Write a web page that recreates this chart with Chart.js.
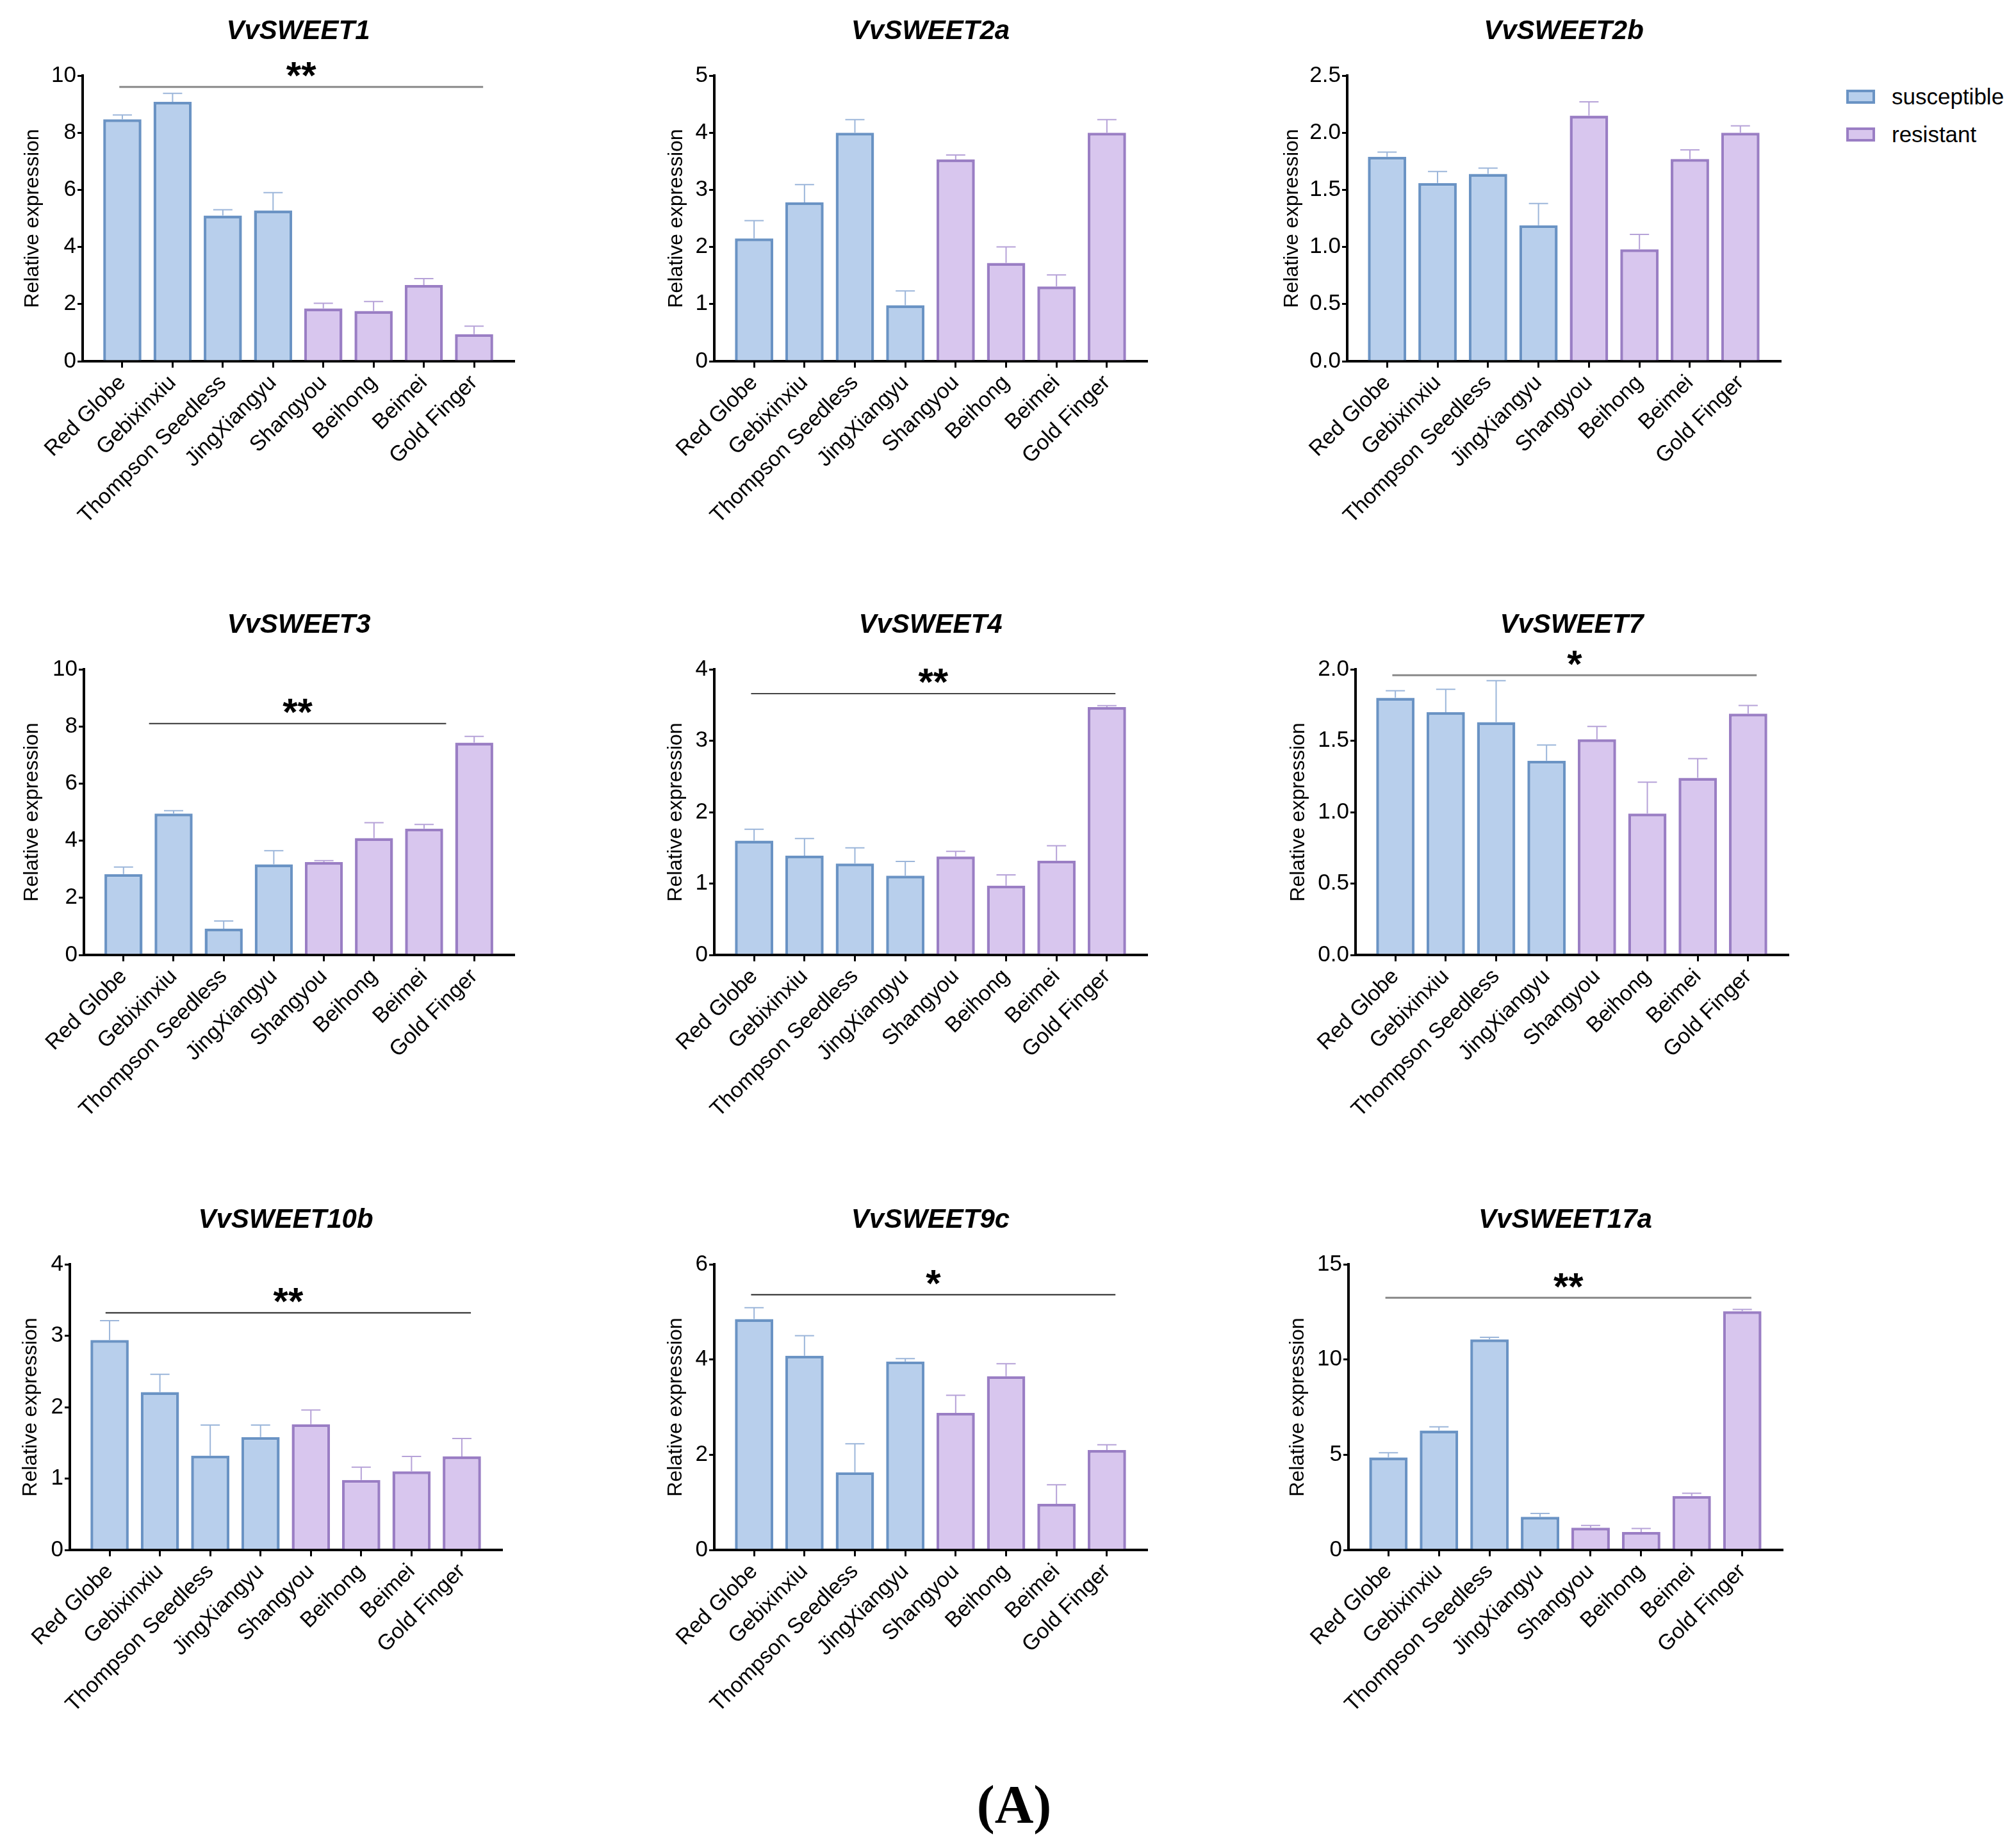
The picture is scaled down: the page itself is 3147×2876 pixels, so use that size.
<!DOCTYPE html>
<html>
<head>
<meta charset="utf-8">
<title>VvSWEET relative expression</title>
<script src="https://cdn.jsdelivr.net/npm/chart.js@4.4.1/dist/chart.umd.min.js"></script>
<style>
  html, body { margin: 0; padding: 0; background: #fff; }
  body { width: 3147px; height: 2876px; position: relative; overflow: hidden;
         font-family: "Liberation Sans", Arial, sans-serif; }
  .panel { position: absolute; }
  .legend-row { position: absolute; display: flex; align-items: center; font-size: 35px; color: #000; }
  .legend-box { width: 45px; height: 22px; box-sizing: border-box; border: 4px solid; margin-right: 26px; }
  #figLabel { position: absolute; left: 1383px; width: 400px; top: 2776px; text-align: center;
              font: bold 84px/84px "Liberation Serif", "Times New Roman", serif; color: #000; }
</style>
</head>
<body>
<div id="figLabel">(A)</div>
<script>
"use strict";

/* ---- data ---- */
const CATEGORIES = ["Red Globe", "Gebixinxiu", "Thompson Seedless", "JingXiangyu",
                    "Shangyou", "Beihong", "Beimei", "Gold Finger"];
const GROUPS = ["susceptible", "susceptible", "susceptible", "susceptible",
                "resistant", "resistant", "resistant", "resistant"];
const SERIES = ["susceptible", "resistant"];

const GENES = ["VvSWEET1", "VvSWEET2a", "VvSWEET2b", "VvSWEET3", "VvSWEET4",
               "VvSWEET7", "VvSWEET10b", "VvSWEET9c", "VvSWEET17a"];

const VvSWEET1      = [8.47, 9.08, 5.10, 5.28, 1.85, 1.76, 2.67, 0.95];
const VvSWEET1_SD   = [0.15, 0.30, 0.20, 0.62, 0.18, 0.33, 0.22, 0.28];
const VvSWEET2a     = [2.15, 2.78, 4.00, 0.98, 3.53, 1.72, 1.31, 4.00];
const VvSWEET2a_SD  = [0.31, 0.31, 0.23, 0.25, 0.08, 0.28, 0.20, 0.23];
const VvSWEET2b     = [1.79, 1.56, 1.64, 1.19, 2.15, 0.98, 1.77, 2.00];
const VvSWEET2b_SD  = [0.04, 0.10, 0.05, 0.19, 0.12, 0.13, 0.08, 0.06];
const VvSWEET3      = [2.83, 4.95, 0.92, 3.17, 3.25, 4.09, 4.42, 7.43];
const VvSWEET3_SD   = [0.25, 0.10, 0.27, 0.48, 0.05, 0.54, 0.15, 0.22];
const VvSWEET4      = [1.60, 1.39, 1.28, 1.11, 1.38, 0.97, 1.32, 3.47];
const VvSWEET4_SD   = [0.16, 0.24, 0.22, 0.20, 0.07, 0.15, 0.21, 0.02];
const VvSWEET7      = [1.80, 1.70, 1.63, 1.36, 1.51, 0.99, 1.24, 1.69];
const VvSWEET7_SD   = [0.05, 0.16, 0.29, 0.11, 0.09, 0.22, 0.135, 0.057];
const VvSWEET10b    = [2.94, 2.21, 1.32, 1.58, 1.76, 0.98, 1.10, 1.31];
const VvSWEET10b_SD = [0.27, 0.25, 0.43, 0.17, 0.20, 0.18, 0.21, 0.25];
const VvSWEET9c     = [4.85, 4.08, 1.63, 3.96, 2.88, 3.65, 0.97, 2.10];
const VvSWEET9c_SD  = [0.24, 0.42, 0.60, 0.06, 0.37, 0.26, 0.40, 0.11];
const VvSWEET17a    = [4.86, 6.27, 11.06, 1.74, 1.17, 0.94, 2.83, 12.54];
const VvSWEET17a_SD = [0.24, 0.20, 0.11, 0.18, 0.12, 0.19, 0.15, 0.09];

const MEANS = [VvSWEET1, VvSWEET2a, VvSWEET2b, VvSWEET3, VvSWEET4, VvSWEET7, VvSWEET10b, VvSWEET9c, VvSWEET17a];
const ERRORS = [VvSWEET1_SD, VvSWEET2a_SD, VvSWEET2b_SD, VvSWEET3_SD, VvSWEET4_SD, VvSWEET7_SD, VvSWEET10b_SD, VvSWEET9c_SD, VvSWEET17a_SD];

// y axes
const Y_MAX      = [10, 5, 2.5, 10, 4, 2, 4, 6, 15];
const Y_STEP     = [2, 1, 0.5, 2, 1, 0.5, 1, 2, 5];
const Y_DECIMALS = [0, 0, 1, 0, 0, 1, 0, 0, 0];

// significance bars (span in category index, level in y units)
const SIG_TEXT  = ["**", null, null, "**", "**", "*", "**", "*", "**"];
const SIG_LEVEL = [9.6, null, null, 8.1, 3.66, 1.958, 3.32, 5.36, 13.24];
const SIG_FROM  = [-0.06, null, null, 0.51, -0.06, -0.06, -0.08, -0.06, -0.06];
const SIG_TO    = [7.18, null, null, 6.44, 7.17, 7.17, 7.18, 7.17, 7.18];

/* ---- layout & style ---- */
const PANEL_BOX = [
  { left: 129,  right: 802,  top: 118 },
  { left: 1115, right: 1790, top: 118 },
  { left: 2103, right: 2779, top: 118 },
  { left: 131,  right: 802,  top: 1045 },
  { left: 1115, right: 1790, top: 1045 },
  { left: 2116, right: 2791, top: 1045 },
  { left: 109,  right: 783,  top: 1974 },
  { left: 1115, right: 1790, top: 1974 },
  { left: 2105, right: 2782, top: 1974 },
];
const YTITLE_OFFSET = [78, 59, 86, 81, 60, 89, 61, 60, 79];   // title centre left of axis
const SIG_STYLE = [
  { color: "#8a8a8a", width: 3 }, null, null,
  { color: "#333", width: 2 }, { color: "#444", width: 2 }, { color: "#888", width: 3 },
  { color: "#222", width: 2 }, { color: "#222", width: 2 }, { color: "#888", width: 3 },
];

const AXIS_W = 110, PAD_R = 20, TOP_H = 118, PLOT_H = 446, BOTTOM_H = 260;
const FILL = { susceptible: "#B8CFEC", resistant: "#D8C6EE" };
const EDGE = { susceptible: "#6A93C4", resistant: "#9A7EC4" };
const ERRC = { susceptible: "#9CB6DA", resistant: "#B6A2D8" };
const FONT = "'Liberation Sans', Arial, sans-serif";

Chart.defaults.font.family = FONT;
Chart.defaults.color = "#000";

const errorBars = {
  id: "errorBars",
  afterDatasetsDraw(chart) {
    const { ctx } = chart;
    const ys = chart.scales.y;
    chart.data.datasets.forEach((ds, di) => {
      const meta = chart.getDatasetMeta(di);
      ctx.save();
      ctx.strokeStyle = ERRC[ds.label];
      ctx.lineWidth = 2;
      meta.data.forEach((bar, j) => {
        const pt = ds.data[j];
        const top = ys.getPixelForValue(pt.y + pt.err);
        ctx.beginPath();
        ctx.moveTo(bar.x, bar.y);
        ctx.lineTo(bar.x, top);
        ctx.moveTo(bar.x - 15, top);
        ctx.lineTo(bar.x + 15, top);
        ctx.stroke();
      });
      ctx.restore();
    });
  },
};

const sigBar = {
  id: "sigBar",
  afterDraw(chart, args, opts) {
    if (!opts.text) return;
    const { ctx } = chart;
    const { x, y } = chart.scales;
    const x0 = x.getPixelForValue(opts.from), x1 = x.getPixelForValue(opts.to);
    const yl = y.getPixelForValue(opts.level);
    ctx.save();
    ctx.strokeStyle = opts.color;
    ctx.lineWidth = opts.width;
    ctx.beginPath();
    ctx.moveTo(x0, yl);
    ctx.lineTo(x1, yl);
    ctx.stroke();
    const size = 60;
    ctx.font = `bold ${size}px ${FONT}`;
    ctx.fillStyle = "#000";
    ctx.textAlign = "center";
    ctx.textBaseline = "alphabetic";
    ctx.fillText(opts.text, (x0 + x1) / 2, yl - 31 + 0.555 * size);
    ctx.restore();
  },
};

function makePanel(p) {
  const box = PANEL_BOX[p];
  const w = box.right - box.left + AXIS_W + PAD_R;
  const hgt = TOP_H + PLOT_H + BOTTOM_H;

  const wrap = document.createElement("div");
  wrap.className = "panel";
  Object.assign(wrap.style, { left: (box.left - AXIS_W) + "px", top: (box.top - TOP_H) + "px", width: w + "px", height: hgt + "px" });
  const canvas = document.createElement("canvas");
  canvas.width = w; canvas.height = hgt;
  canvas.style.width = w + "px"; canvas.style.height = hgt + "px";
  wrap.appendChild(canvas);
  document.body.appendChild(wrap);

  const datasets = SERIES.map(g => ({
    label: g,
    data: CATEGORIES.map((c, i) => ({ x: i, y: MEANS[p][i], err: ERRORS[p][i] }))
                    .filter((d, i) => GROUPS[i] === g),
    backgroundColor: FILL[g],
    borderColor: EDGE[g],
    borderWidth: 4.5,
    borderSkipped: "start",
    barPercentage: 0.76,
    categoryPercentage: 1,
    grouped: false,
  }));

  const sig = SIG_TEXT[p]
    ? { text: SIG_TEXT[p], from: SIG_FROM[p], to: SIG_TO[p], level: SIG_LEVEL[p], ...SIG_STYLE[p] }
    : { text: null };

  new Chart(canvas, {
    type: "bar",
    data: { datasets },
    plugins: [errorBars, sigBar],
    options: {
      responsive: false,
      animation: false,
      layout: { padding: { right: PAD_R } },
      plugins: {
        legend: { display: false },
        tooltip: { enabled: false },
        title: {
          display: true, text: GENES[p], fullSize: false, color: "#000",
          font: { size: 42, weight: "bold", style: "italic", lineHeight: 1.2 },
          padding: { top: 24, bottom: 43.6 },
        },
        sigBar: sig,
      },
      scales: {
        x: {
          type: "linear", min: -0.79, max: 7.79, offset: false,
          afterBuildTicks: ax => { ax.ticks = CATEGORIES.map((c, i) => ({ value: i })); },
          afterFit: ax => { ax.height = BOTTOM_H; },
          ticks: {
            callback: (v, i) => CATEGORIES[i],
            autoSkip: false, minRotation: 45, maxRotation: 45,
            color: "#000", font: { size: 34 }, padding: 4,
          },
          grid: { offset: false, drawOnChartArea: false, drawTicks: true, tickLength: 10, color: "#000", lineWidth: 3 },
          border: { color: "#000", width: 4 },
        },
        y: {
          min: 0, max: Y_MAX[p],
          afterFit: ax => { ax.width = AXIS_W; },
          ticks: {
            stepSize: Y_STEP[p],
            callback: v => v.toFixed(Y_DECIMALS[p]),
            color: "#000", font: { size: 35 }, padding: 2,
          },
          grid: { drawOnChartArea: false, drawTicks: true, tickLength: 8, color: "#000", lineWidth: 3 },
          border: { color: "#000", width: 4 },
          title: {
            display: true, text: "Relative expression", color: "#000",
            font: { size: 32, lineHeight: 1.2 },
            padding: { top: AXIS_W - YTITLE_OFFSET[p] - 19.2, bottom: 0 },
          },
        },
      },
    },
  });
}

GENES.forEach((g, p) => makePanel(p));

// legend
SERIES.forEach((g, k) => {
  const row = document.createElement("div");
  row.className = "legend-row";
  Object.assign(row.style, { left: "2882px", top: (130 + k * 59) + "px", height: "42px" });
  const sw = document.createElement("span");
  sw.className = "legend-box";
  sw.style.background = FILL[g];
  sw.style.borderColor = EDGE[g];
  row.appendChild(sw);
  row.appendChild(document.createTextNode(g));
  document.body.appendChild(row);
});
</script>
</body>
</html>
